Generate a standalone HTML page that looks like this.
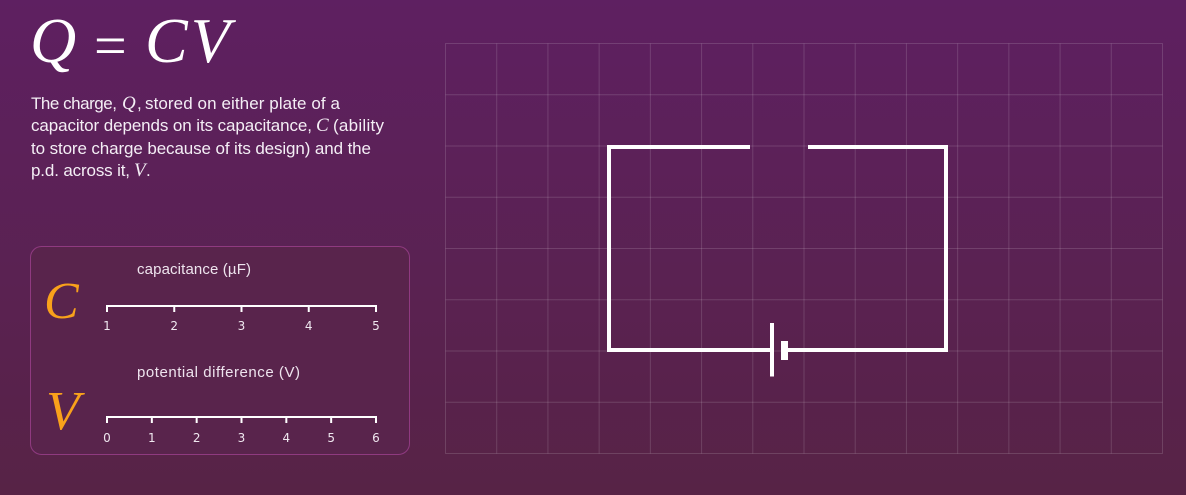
<!DOCTYPE html>
<html>
<head>
<meta charset="utf-8">
<style>
html,body{margin:0;padding:0;width:1186px;height:495px;overflow:hidden;background:#5a2350}
svg{display:block}
.m{font-family:"Liberation Serif",serif;font-style:italic}
.b{font-family:"Liberation Sans",sans-serif;font-size:17px;fill:#f4eef5}
.a{font-family:"Liberation Sans",sans-serif;font-size:15px;fill:#eee4ee}
.t{font-family:"DejaVu Sans",sans-serif;font-size:12px;fill:#efe7ef;text-anchor:middle}
</style>
</head>
<body>
<svg id="root" xmlns="http://www.w3.org/2000/svg" width="1186" height="495" viewBox="0 0 1186 495">
  <defs>
    <linearGradient id="bg" x1="0" y1="0" x2="0" y2="1">
      <stop offset="0" stop-color="#5e2061"/>
      <stop offset="1" stop-color="#572346"/>
    </linearGradient>
  </defs>
  <rect width="1186" height="495" fill="url(#bg)"/>

  <g fill="#ffffff">
    <text class="m" x="30" y="62" font-size="64">Q</text>
    <text x="94" y="65" font-size="58" font-family="Liberation Serif, serif">=</text>
    <text class="m" x="145" y="62" font-size="64" letter-spacing="3">CV</text>
  </g>

  <g>
    <text class="b" x="31" y="109" textLength="86">The charge,</text>
    <text class="m" x="122" y="109" font-size="19" fill="#f4eef5">Q</text>
    <text class="b" x="137" y="109">,</text>
    <text class="b" x="145" y="109" textLength="195">stored on either plate of a</text>
    <text class="b" x="31" y="131" textLength="281">capacitor depends on its capacitance,</text>
    <text class="m" x="316" y="131" font-size="19" fill="#f4eef5">C</text>
    <text class="b" x="333" y="131" textLength="51">(ability</text>
    <text class="b" x="31" y="154" textLength="340">to store charge because of its design) and the</text>
    <text class="b" x="31" y="176" textLength="99">p.d. across it,</text>
    <text class="m" x="134" y="176" font-size="19" fill="#f4eef5">V</text>
    <text class="b" x="146" y="176">.</text>
  </g>

  <rect x="30.5" y="246.5" width="379" height="208" rx="11" ry="11" fill="#59244c" stroke="#8f3a80" stroke-width="1"/>
  <text class="m" x="44" y="318" font-size="52" fill="#f9a11b">C</text>
  <text class="m" x="46" y="429" font-size="55" fill="#f9a11b">V</text>
  <text class="a" x="137" y="274" textLength="114">capacitance (µF)</text>
  <text class="a" x="137" y="377" textLength="163">potential difference (V)</text>
  <g id="sliders"></g>

  <g id="grid"></g>

  <g stroke="#ffffff" fill="none">
    <path d="M750 147H609V350H772" stroke-width="4"/>
    <path d="M808 147H946V350H788" stroke-width="4"/>
    <rect x="770" y="323" width="4" height="53.500" fill="#ffffff" stroke="none"/>
    <rect x="781" y="341" width="7" height="19" fill="#ffffff" stroke="none"/>
  </g>
</svg>
<script>
const capacitanceTicks = [1, 2, 3, 4, 5];
const voltageTicks = [0, 1, 2, 3, 4, 5, 6];
const gridColumns = [0, 1, 2, 3, 4, 5, 6, 7, 8, 9, 10, 11, 12, 13, 14];
const gridRows = [0, 1, 2, 3, 4, 5, 6, 7, 8];

const NS = 'http://www.w3.org/2000/svg';

function scale(domainMin, domainMax, rangeMin, rangeMax) {
  return function (v) {
    return rangeMin + (v - domainMin) / (domainMax - domainMin) * (rangeMax - rangeMin);
  };
}

function addLine(parent, x1, y1, x2, y2, stroke, width) {
  const l = document.createElementNS(NS, 'line');
  l.setAttribute('x1', x1);
  l.setAttribute('y1', y1);
  l.setAttribute('x2', x2);
  l.setAttribute('y2', y2);
  l.setAttribute('stroke', stroke);
  l.setAttribute('stroke-width', width);
  parent.appendChild(l);
  return l;
}

function drawSlider(ticks, axisY, labelY) {
  const host = document.getElementById('sliders');
  const x = scale(ticks[0], ticks[ticks.length - 1], 107, 376);
  const axis = addLine(host, 106, axisY, 377, axisY, '#ffffff', 2);
  
  
  ticks.forEach(function (t) {
    const tick = addLine(host, x(t), axisY, x(t), axisY + 6, '#ffffff', 2);
    
    
    const label = document.createElementNS(NS, 'text');
    label.setAttribute('class', 't');
    label.setAttribute('x', x(t));
    label.setAttribute('y', labelY);
    label.textContent = t;
    
    
    host.appendChild(label);
  });
}

function drawGrid() {
  const host = document.getElementById('grid');
  const x = scale(gridColumns[0], gridColumns[gridColumns.length - 1], 445.5, 1162.5);
  const y = scale(gridRows[0], gridRows[gridRows.length - 1], 43.5, 453.5);
  gridColumns.forEach(function (c) {
    const l = addLine(host, x(c), 43.5, x(c), 453.5, '#ffffff', 1);
    l.setAttribute('stroke-opacity', '0.14');
    
    
  });
  gridRows.forEach(function (r) {
    const l = addLine(host, 445.5, y(r), 1162.5, y(r), '#ffffff', 1);
    l.setAttribute('stroke-opacity', '0.14');
    
    
  });
}

drawGrid();
drawSlider(capacitanceTicks, 306, 330);
drawSlider(voltageTicks, 417, 442);
</script>
</body>
</html>
